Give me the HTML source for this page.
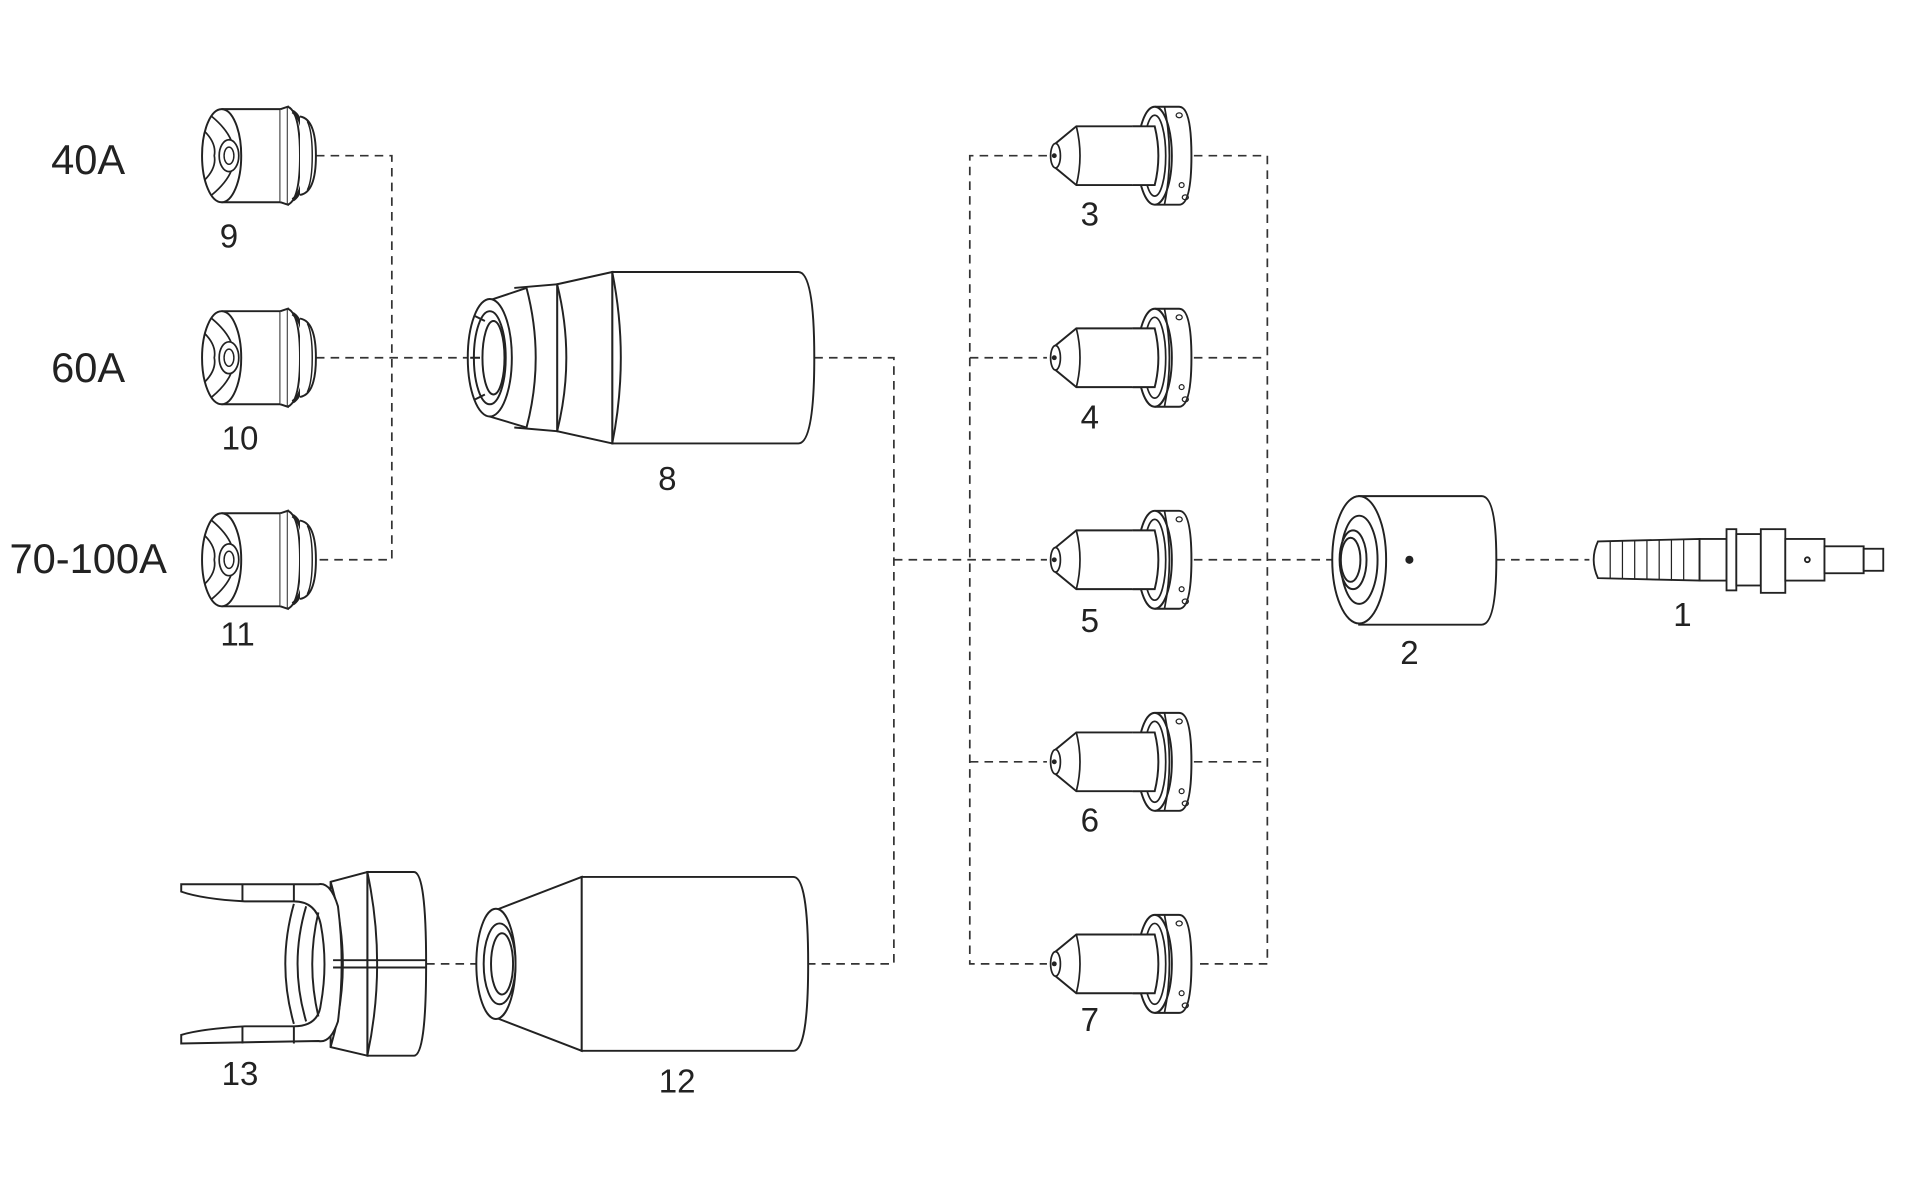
<!DOCTYPE html>
<html><head><meta charset="utf-8"><style>
html,body{margin:0;padding:0;background:#fff;}
svg{display:block}
text{font-family:"Liberation Sans",sans-serif;fill:#222}
</style></head><body>
<svg width="1920" height="1182" viewBox="0 0 1568 965" xmlns="http://www.w3.org/2000/svg">
<defs>
<g id="nozzle">
  <!-- center at y=0, starts x=0 -->
  <path d="M18,-38 L66,-38 L66,38 L18,38" fill="#fff" stroke="#222" stroke-width="1.6"/>
  <ellipse cx="18" cy="0" rx="16" ry="38" fill="#fff" stroke="#222" stroke-width="1.6"/>
  <path d="M4,-20 Q14,-10 12,0 Q14,10 4,20 M10,-32 Q22,-22 26,-12 M10,32 Q22,22 26,12" fill="none" stroke="#222" stroke-width="1.4"/>
  <ellipse cx="24" cy="0" rx="8" ry="13" fill="#fff" stroke="#222" stroke-width="1.4"/>
  <ellipse cx="24" cy="0" rx="4" ry="7" fill="none" stroke="#222" stroke-width="1.2"/>
  <path d="M66,-38 L72,-40 L72,40 L66,38" fill="#fff" stroke="#222" stroke-width="1.6"/>
  <path d="M72,-40 Q82,-36 82,0 Q82,36 72,40" fill="#fff" stroke="#222" stroke-width="1.6"/>
  <path d="M76,-36 Q86,-30 86,0 Q86,30 76,36" fill="none" stroke="#222" stroke-width="3"/>
  <path d="M82,-32 Q95,-30 95,0 Q95,30 82,32" fill="#fff" stroke="#222" stroke-width="1.6"/>
  <path d="M88,-28 Q92,-20 92,0 Q92,20 88,28" fill="none" stroke="#222" stroke-width="1.2"/>
</g>
<g id="electrode">
  <!-- tip at x=0 -->
  <path d="M24,-24 L90,-24 L90,24 L24,24 L7,10 L7,-10 Z" fill="#fff" stroke="#222" stroke-width="1.6"/>
  <ellipse cx="7" cy="0" rx="4" ry="10" fill="#fff" stroke="#222" stroke-width="1.4"/>
  <circle cx="6" cy="0" r="2" fill="#222"/>
  <path d="M24,-24 Q30,0 24,24" fill="none" stroke="#222" stroke-width="1.4"/>
  <path d="M88,-40 L108,-40 Q118,-40 118,0 Q118,40 108,40 L88,40" fill="#fff" stroke="#222" stroke-width="1.6"/>
  <ellipse cx="88" cy="0" rx="14" ry="40" fill="#fff" stroke="#222" stroke-width="1.6"/>
  <ellipse cx="88" cy="0" rx="9" ry="33" fill="none" stroke="#222" stroke-width="1.4"/>
  <path d="M96,-40 Q104,0 96,40" fill="none" stroke="#222" stroke-width="1.4"/>
  <path d="M70,-24 L88,-24 Q94,0 88,24 L70,24" fill="#fff" stroke="#222" stroke-width="1.6"/>
  <ellipse cx="108" cy="-33" rx="2.5" ry="2" fill="none" stroke="#222"/>
  <ellipse cx="110" cy="24" rx="2" ry="2" fill="none" stroke="#222"/>
  <ellipse cx="113" cy="34" rx="2.5" ry="2" fill="none" stroke="#222"/>
</g>
</defs>

<!-- dashed connectors -->
<g fill="none" stroke="#333" stroke-width="1.4" stroke-dasharray="7,5">
  <path d="M258,127 H320 V457 H258"/>
  <path d="M258,292 H385"/>
  <path d="M665,292 H730 V787 H660"/>
  <path d="M348,787 H395"/>
  <path d="M730,457 H855"/>
  <path d="M855,127 H792 V787 H855"/>
  <path d="M792,292 H855 M792,622 H855"/>
  <path d="M975,127 H1035 V787 H975 M975,292 H1035 M975,622 H1035"/>
  <path d="M975,457 H1095"/>
  <path d="M1222,457 H1298"/>
</g>

<!-- nozzles -->
<use href="#nozzle" x="163" y="127"/>
<use href="#nozzle" x="163" y="292"/>
<use href="#nozzle" x="163" y="457"/>

<!-- electrodes -->
<use href="#electrode" x="855" y="127"/>
<use href="#electrode" x="855" y="292"/>
<use href="#electrode" x="855" y="457"/>
<use href="#electrode" x="855" y="622"/>
<use href="#electrode" x="855" y="787"/>

<!-- part 8 shield cap -->
<g stroke="#222" stroke-width="1.6" fill="#fff">
  <path d="M500,222 L652,222 Q665,222 665,292 Q665,362 652,362 L500,362 Z"/>
  <path d="M455,232 L500,222 L500,362 L455,352 Z"/>
  <path d="M500,222 Q514,292 500,362" fill="none"/>
  <path d="M455,232 Q470,292 455,352" fill="none"/>
  <path d="M420,235 L455,232 L455,352 L420,349" />
  <path d="M400,245 L430,235 Q445,292 430,349 L400,340 Z"/>
  <ellipse cx="400" cy="292" rx="18" ry="48"/>
  <ellipse cx="400" cy="292" rx="13" ry="38"/>
  <ellipse cx="403" cy="292" rx="9" ry="30"/>
  <path d="M388,258 L396,262 M388,326 L396,322 M384,292 H392" fill="none"/>
</g>

<!-- part 12 -->
<g stroke="#222" stroke-width="1.6" fill="#fff">
  <path d="M475,716 L648,716 Q660,716 660,787 Q660,858 648,858 L475,858 Z"/>
  <path d="M405,743 L475,716 L475,858 L405,831 Z"/>
  <ellipse cx="405" cy="787" rx="16" ry="45"/>
  <ellipse cx="408" cy="787" rx="13" ry="33"/>
  <ellipse cx="410" cy="787" rx="9" ry="25"/>
</g>

<!-- part 13 -->
<g stroke="#222" stroke-width="1.6" fill="#fff">
  <path d="M300,712 L338,712 Q348,712 348,787 Q348,862 338,862 L300,862 Z"/>
  <path d="M270,720 L300,712 L300,862 L270,855 Z"/>
  <path d="M300,712 Q316,787 300,862" fill="none"/>
  <path d="M270,720 Q290,787 270,855" fill="none"/>
  <path d="M148,722 L260,722 Q270,720 276,740 Q282,787 276,834 Q270,852 260,850 L148,852 L148,845 Q165,840 200,838 L240,838 Q260,838 262,820 Q268,787 262,755 Q258,736 240,736 L200,736 Q165,734 148,728 Z"/>
  <path d="M240,738 Q226,787 240,836 M250,740 Q236,787 250,834" fill="none"/>
  <path d="M260,745 Q250,787 260,830" fill="none"/>
  <path d="M198,722 V736 M240,722 V736 M198,838 V852 M240,838 V852" fill="none"/>
  <path d="M272,784 H348 M272,790 H348" fill="none"/>
</g>

<!-- part 2 -->
<g stroke="#222" stroke-width="1.6" fill="#fff">
  <path d="M1110,405 L1210,405 Q1222,405 1222,457 Q1222,510 1210,510 L1110,510 Z"/>
  <ellipse cx="1110" cy="457" rx="22" ry="52"/>
  <ellipse cx="1110" cy="457" rx="15" ry="36"/>
  <ellipse cx="1105" cy="457" rx="11" ry="24"/>
  <ellipse cx="1103" cy="457" rx="8" ry="18"/>
  <circle cx="1151" cy="457" r="2.5" fill="#222"/>
</g>

<!-- part 1 -->
<g stroke="#222" stroke-width="1.5" fill="#fff">
  <path d="M1305,442 L1388,440 L1388,474 L1305,472 Q1298,457 1305,442 Z"/>
  <path d="M1315,442 V472 M1325,441 V473 M1335,441 V473 M1345,441 V473 M1355,441 V473 M1365,440 V474 M1375,440 V474" fill="none" stroke-width="1"/>
  <rect x="1388" y="440" width="22" height="34"/>
  <rect x="1410" y="432" width="8" height="50"/>
  <rect x="1418" y="436" width="20" height="42"/>
  <rect x="1438" y="432" width="20" height="52"/>
  <rect x="1458" y="440" width="32" height="34"/>
  <rect x="1490" y="446" width="32" height="22"/>
  <rect x="1522" y="448" width="16" height="18"/>
  <circle cx="1476" cy="457" r="2" fill="none"/>
</g>

<!-- labels -->
<g font-size="34" text-anchor="middle">
  <text x="72" y="142">40A</text>
  <text x="72" y="312">60A</text>
  <text x="72" y="468">70-100A</text>
</g>
<g font-size="27" text-anchor="middle">
  <text x="187" y="202">9</text>
  <text x="196" y="367">10</text>
  <text x="194" y="527">11</text>
  <text x="545" y="400">8</text>
  <text x="890" y="184">3</text>
  <text x="890" y="350">4</text>
  <text x="890" y="516">5</text>
  <text x="890" y="679">6</text>
  <text x="890" y="842">7</text>
  <text x="1151" y="542">2</text>
  <text x="1374" y="511">1</text>
  <text x="553" y="892">12</text>
  <text x="196" y="886">13</text>
</g>
</svg>
</body></html>
